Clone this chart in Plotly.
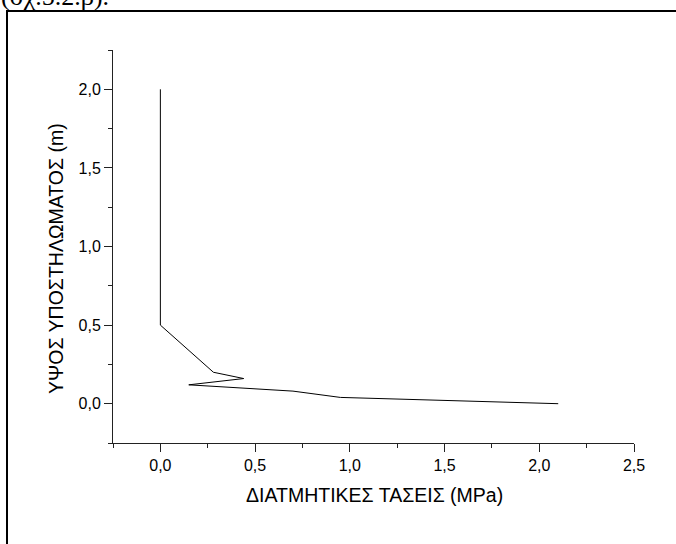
import plotly.graph_objects as go

# Data (shear stress vs. column height)
stress_mpa = [0.0, 0.0, 0.0, 0.28, 0.44, 0.15, 0.70, 0.95, 2.10]
height_m = [2.0, 1.0, 0.5, 0.20, 0.16, 0.12, 0.08, 0.04, 0.0]

x_title = "ΔΙΑΤΜΗΤΙΚΕΣ ΤΑΣΕΙΣ (MPa)"
y_title = "ΥΨΟΣ ΥΠΟΣΤΗΛΩΜΑΤΟΣ (m)"
caption = "(σχ.5.2.β)."

W, H = 676, 544
L, R, T, B = 113, 42, 50, 101
pw, ph = W - L - R, H - T - B


def px_to_paper_x(px):
    return (px - L) / pw


def px_to_paper_y(py):
    return (H - B - py) / ph


fig = go.Figure()
fig.add_trace(go.Scatter(
    x=stress_mpa, y=height_m, mode="lines",
    line=dict(color="black", width=1),
    showlegend=False, hoverinfo="skip",
))

axis_common = dict(
    showgrid=False, zeroline=False, showline=True,
    linecolor="#222222", linewidth=1,
    ticks="outside", ticklen=8, tickwidth=1, tickcolor="#222222",
    tickformat=".1f", dtick=0.5, tick0=0,
    tickfont=dict(family="Liberation Sans, Arial", size=16, color="black"),
    minor=dict(ticks="outside", ticklen=4, tickwidth=1, tickcolor="#222222",
               dtick=0.25, tick0=0, showgrid=False),
    mirror=False, fixedrange=True,
)

fig.update_layout(
    width=W, height=H,
    margin=dict(l=L, r=R, t=T, b=B),
    paper_bgcolor="white", plot_bgcolor="white",
    separators=",.",
    xaxis=dict(range=[-0.25, 2.5], **axis_common),
    yaxis=dict(range=[-0.25, 2.25], **axis_common),
    font=dict(family="Liberation Sans, Arial", color="black"),
    annotations=[
        dict(text=x_title, xref="paper", yref="paper",
             x=px_to_paper_x(374), y=px_to_paper_y(495),
             xanchor="center", yanchor="middle", showarrow=False,
             font=dict(family="Liberation Sans, Arial", size=19.5, color="black")),
        dict(text=y_title, xref="paper", yref="paper", textangle=-90,
             x=px_to_paper_x(56), y=px_to_paper_y(259),
             xanchor="center", yanchor="middle", showarrow=False,
             font=dict(family="Liberation Sans, Arial", size=19.5, color="black")),
        dict(text=caption, xref="paper", yref="paper",
             x=px_to_paper_x(-1), y=px_to_paper_y(13),
             xanchor="left", yanchor="bottom", showarrow=False,
             font=dict(family="Liberation Serif, Times New Roman", size=26, color="black")),
    ],
    shapes=[
        dict(type="rect", xref="paper", yref="paper",
             x0=px_to_paper_x(7), x1=px_to_paper_x(700),
             y0=px_to_paper_y(580), y1=px_to_paper_y(11),
             line=dict(color="black", width=2), fillcolor="rgba(0,0,0,0)",
             layer="above"),
    ],
)

fig.write_html(
    "out.html",
    config={"displayModeBar": False, "staticPlot": True},
    post_script="document.body.style.margin='0';document.body.style.overflow='hidden';",
)
